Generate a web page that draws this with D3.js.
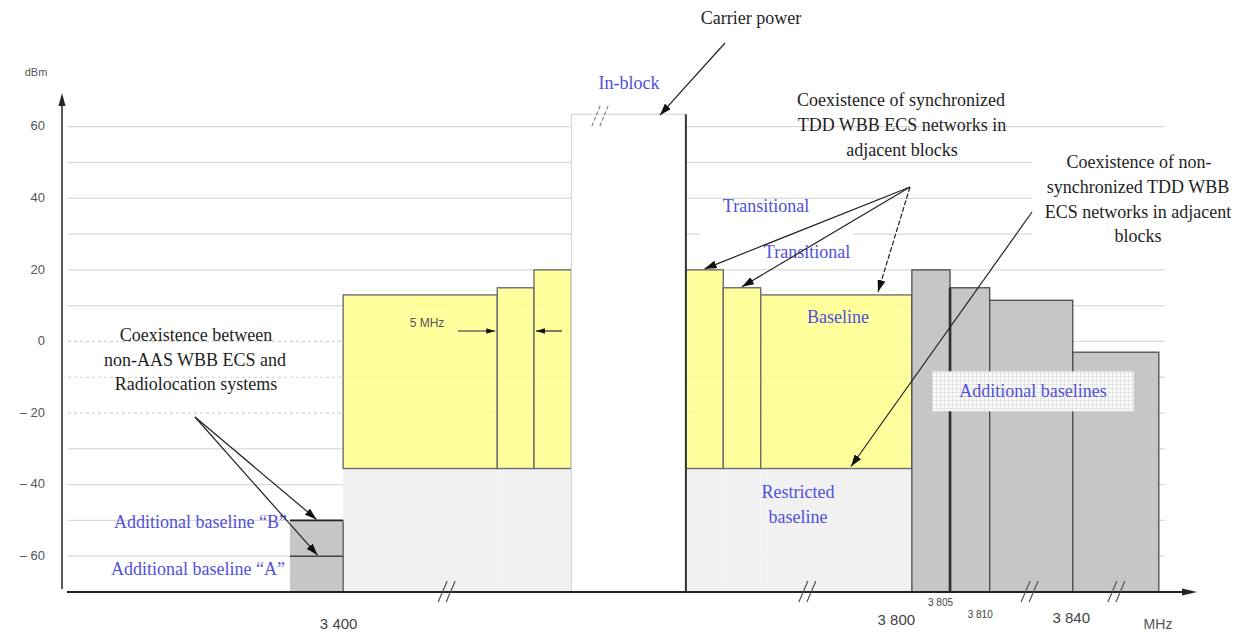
<!DOCTYPE html>
<html><head><meta charset="utf-8">
<script src="https://cdn.jsdelivr.net/npm/d3@7"></script>
<style>body{margin:0;background:#fff;} svg{display:block;}</style>
</head><body>
<svg id="chart" width="1242" height="632"></svg>
<script>
// ---------------- data ----------------
const yTickValues = [60, 40, 20, 0, -20, -40, -60];
const yTickLabels = ["60", "40", "20", "0", "– 20", "– 40", "– 60"];
const gridValues  = [60, 50, 40, 30, 20, 10, 0, -10, -20, -30, -40, -50, -60];

// schematic (broken) frequency axis, in drawing units
const blockNames = ["Additional baseline A/B", "Baseline", "Transitional", "Transitional", "In-block",
                    "Transitional", "Transitional", "Baseline", "Additional 3800-3805",
                    "Additional 3805-3810", "Additional 3810-3840", "Additional above 3840"];
const blockStart = [29.8, 36.9, 57.5, 62.4, 67.4, 82.7, 87.7, 92.7, 112.9, 118.0, 123.3, 134.4];
const blockEnd   = [36.9, 57.5, 62.4, 67.4, 82.7, 87.7, 92.7, 112.9, 118.0, 123.3, 134.4, 145.9];
const blockLevel = [-50, 13, 15, 20, 63.5, 20, 15, 13, 20, 15, 11.5, -3];
const blockType  = ["add", "yellow", "yellow", "yellow", "inblock", "yellow", "yellow", "yellow",
                    "add", "add", "add", "add"];
const restrictedLevel = -35.5;
const additionalA = -60;
const additionalB = -50;

const xTickValues = [36.9, 112.9, 118.0, 123.3, 134.4];
const xTickLabels = ["3 400", "3 800", "3 805", "3 810", "3 840"];
const axisBreaks  = [50.8, 99.0, 128.7, 140.3];
const inBlockBreak = 71.2;

// ---------------- chart ----------------
const svg = d3.select("#chart");
const x = d3.scaleLinear().domain([0, 151]).range([67, 1197]);
const y = d3.scaleLinear().domain([-70, 60]).range([592, 126.7]);

const SERIF = "'Liberation Serif', 'Times New Roman', serif";
const SANS = "'Liberation Sans', Arial, sans-serif";
const BLUE = "#5050dc";
const INK = "#1e1e1e";

const defs = svg.append("defs");
defs.append("marker").attr("id", "arr").attr("viewBox", "0 0 12 8")
  .attr("refX", 12).attr("refY", 4).attr("markerWidth", 12).attr("markerHeight", 8)
  .attr("markerUnits", "userSpaceOnUse").attr("orient", "auto")
  .append("path").attr("d", "M0,0 L12,4 L0,8 Z").attr("fill", "#111");
defs.append("marker").attr("id", "arrs").attr("viewBox", "0 0 10 6")
  .attr("refX", 10).attr("refY", 3).attr("markerWidth", 9).attr("markerHeight", 6)
  .attr("markerUnits", "userSpaceOnUse").attr("orient", "auto")
  .append("path").attr("d", "M0,0 L10,3 L0,6 Z").attr("fill", "#111");
const pat = defs.append("pattern").attr("id", "mottle").attr("width", 4).attr("height", 4)
  .attr("patternUnits", "userSpaceOnUse");
pat.append("rect").attr("width", 4).attr("height", 4).attr("fill", "#fbfbfb");
pat.append("path").attr("d", "M0,0.5H4 M0.5,0V4").attr("stroke", "#e4e4e4").attr("stroke-width", 1);

// gridlines
const gridG = svg.append("g");
gridValues.forEach(v => {
  const dashedLeft = (v <= 0 && v >= -20);
  if (dashedLeft) {
    gridG.append("line").attr("x1", 68).attr("x2", x(blockStart[1])).attr("y1", y(v)).attr("y2", y(v))
      .attr("stroke", "#cfcfcf").attr("stroke-width", 1.2).attr("stroke-dasharray", "3,3");
    gridG.append("line").attr("x1", x(blockStart[1])).attr("x2", 1165).attr("y1", y(v)).attr("y2", y(v))
      .attr("stroke", "#d9d9d9").attr("stroke-width", 1.3);
  } else {
    gridG.append("line").attr("x1", 68).attr("x2", 1165).attr("y1", y(v)).attr("y2", y(v))
      .attr("stroke", "#d9d9d9").attr("stroke-width", 1.3);
  }
});
// white backgrounds behind some annotations (they hide the gridlines)
svg.append("rect").attr("x", 700).attr("y", 229).attr("width", 153).attr("height", 37).attr("fill", "#fff");
svg.append("rect").attr("x", 1032).attr("y", 145).attr("width", 210).attr("height", 110).attr("fill", "#fff");

const blocks = blockNames.map((n, i) => ({ name: n, x0: blockStart[i], x1: blockEnd[i], v: blockLevel[i], type: blockType[i] }));

// restricted baseline (light grey) under the yellow blocks
svg.append("g").selectAll("rect").data(blocks.filter(b => b.type === "yellow")).join("rect")
  .attr("x", d => x(d.x0)).attr("width", d => x(d.x1) - x(d.x0))
  .attr("y", y(restrictedLevel)).attr("height", y(-70) - y(restrictedLevel))
  .attr("fill", "#f1f1f1");

// yellow blocks
svg.append("g").selectAll("rect").data(blocks.filter(b => b.type === "yellow")).join("rect")
  .attr("x", d => x(d.x0)).attr("width", d => x(d.x1) - x(d.x0))
  .attr("y", d => y(d.v)).attr("height", d => y(restrictedLevel) - y(d.v))
  .attr("fill", "#ffff8c").attr("fill-opacity", 0.84)
  .attr("stroke", "#6e6e6e").attr("stroke-width", 1.4);

// additional baseline blocks (grey)
const addBlocks = blocks.filter(b => b.type === "add");
svg.append("g").selectAll("rect").data(addBlocks.slice(1)).join("rect")
  .attr("x", d => x(d.x0)).attr("width", d => x(d.x1) - x(d.x0))
  .attr("y", d => y(d.v)).attr("height", d => y(-70) - y(d.v))
  .attr("fill", "#c6c6c6").attr("stroke", "#4a4a4a").attr("stroke-width", 1.3);
// thick separation at 3 805
svg.append("line").attr("x1", x(blockStart[9])).attr("x2", x(blockStart[9]))
  .attr("y1", y(blockLevel[9])).attr("y2", y(-70)).attr("stroke", "#2e2e2e").attr("stroke-width", 2.6);

// additional baselines A / B
const ab = blocks[0];
svg.append("rect").attr("x", x(ab.x0)).attr("width", x(ab.x1) - x(ab.x0))
  .attr("y", y(additionalB)).attr("height", y(-70) - y(additionalB)).attr("fill", "#c6c6c6");
svg.append("line").attr("x1", x(ab.x0)).attr("x2", x(ab.x1)).attr("y1", y(additionalB)).attr("y2", y(additionalB))
  .attr("stroke", "#222").attr("stroke-width", 1.8);
svg.append("line").attr("x1", x(ab.x0)).attr("x2", x(ab.x1)).attr("y1", y(additionalA)).attr("y2", y(additionalA))
  .attr("stroke", "#444").attr("stroke-width", 1.6);
svg.append("line").attr("x1", x(ab.x1)).attr("x2", x(ab.x1)).attr("y1", y(additionalB)).attr("y2", y(-70))
  .attr("stroke", "#555").attr("stroke-width", 1.3);

// in-block
const ib = blocks[4];
svg.append("rect").attr("x", x(ib.x0)).attr("width", x(ib.x1) - x(ib.x0))
  .attr("y", y(ib.v)).attr("height", y(-70) - y(ib.v))
  .attr("fill", "#fff").attr("stroke", "#d2d2d2").attr("stroke-width", 1);
svg.append("line").attr("x1", x(ib.x1)).attr("x2", x(ib.x1)).attr("y1", y(ib.v)).attr("y2", y(-70))
  .attr("stroke", "#333").attr("stroke-width", 2);
// break mark on the in-block top
[0, 8].forEach(o => {
  const bx = x(inBlockBreak) + o;
  svg.append("line").attr("x1", bx - 8).attr("y1", y(ib.v) + 12).attr("x2", bx + 1).attr("y2", y(ib.v) - 10)
    .attr("stroke", "#8a8a8a").attr("stroke-width", 1.2).attr("stroke-dasharray", "4,2");
});

// axes
const axisY = y(-70);
svg.append("line").attr("x1", 67).attr("x2", 1184).attr("y1", axisY).attr("y2", axisY)
  .attr("stroke", "#222").attr("stroke-width", 2.2);
svg.append("path").attr("d", `M1197,${axisY} L1182,${axisY - 3.5} L1182,${axisY + 3.5} Z`).attr("fill", "#222");
svg.append("line").attr("x1", 62).attr("x2", 62).attr("y1", axisY - 3).attr("y2", 104)
  .attr("stroke", "#333").attr("stroke-width", 1.6);
svg.append("path").attr("d", "M62,93 L58.5,106 L65.5,106 Z").attr("fill", "#222");

axisBreaks.forEach(b => {
  [0, 8].forEach(o => {
    const bx = x(b) + o - 4;
    svg.append("line").attr("x1", bx - 5).attr("y1", axisY + 10).attr("x2", bx + 4).attr("y2", axisY - 11)
      .attr("stroke", "#555").attr("stroke-width", 1.2);
  });
});

const yAxisG = svg.append("g").attr("transform", "translate(45,-1)")
  .call(d3.axisLeft(y).tickValues(yTickValues).tickFormat((d, i) => yTickLabels[i]).tickSize(0).tickPadding(0));
yAxisG.select(".domain").remove();
yAxisG.selectAll("text").attr("font-family", SANS).attr("font-size", 13).attr("fill", "#555");

const xLabelStyle = [
  { dx: -5, cy: 32, size: 15 },
  { dx: -16, cy: 28, size: 15 },
  { dx: -10, cy: 10, size: 10 },
  { dx: -10, cy: 22, size: 10 },
  { dx: -2, cy: 26, size: 15 }
];
const xAxisG = svg.append("g").attr("transform", `translate(0,${axisY})`)
  .call(d3.axisBottom(x).tickValues(xTickValues).tickFormat((d, i) => xLabelStyle && xTickLabels[i]).tickSize(0));
xAxisG.select(".domain").remove();
xAxisG.selectAll("text").each(function (d, i) {
  const s = xLabelStyle[i];
  d3.select(this).attr("font-family", SANS).attr("font-size", s.size).attr("fill", "#444")
    .attr("y", s.cy).attr("dy", "0.35em").attr("dx", s.dx);
});
svg.append("text").attr("x", 1158).attr("y", 624).attr("dy", "0.35em").attr("text-anchor", "middle")
  .attr("font-family", SANS).attr("font-size", 14).attr("fill", "#555").text("MHz");
svg.append("text").attr("x", 36).attr("y", 72).attr("dy", "0.35em").attr("text-anchor", "middle")
  .attr("font-family", SANS).attr("font-size", 11).attr("fill", "#555").text("dBm");

// "Additional baselines" label box
const abText = svg.append("text").attr("x", 1033).attr("y", 391).attr("dy", "0.35em").attr("text-anchor", "middle")
  .attr("font-family", SERIF).attr("font-size", 18).attr("fill", BLUE).text("Additional baselines");
const bb = abText.node().getBBox();
svg.insert("rect", () => abText.node()).attr("x", bb.x - 27).attr("y", bb.y - 10)
  .attr("width", bb.width + 54).attr("height", bb.height + 20).attr("fill", "url(#mottle)");

// text annotations
function txt(t, cx, cy, color, size, family, anchor) {
  svg.append("text").attr("x", cx).attr("y", cy).attr("dy", "0.35em")
    .attr("text-anchor", anchor || "middle").attr("font-family", family || SERIF)
    .attr("font-size", size || 18).attr("fill", color).text(t);
}
txt("Carrier power", 751, 18, INK);
txt("In-block", 629, 83, BLUE);
txt("Coexistence of synchronized", 901, 100, INK);
txt("TDD WBB ECS networks in", 902, 125, INK);
txt("adjacent blocks", 902, 150, INK);
txt("Transitional", 766, 206, BLUE);
txt("Transitional", 807, 252, BLUE);
txt("Baseline", 838, 317, BLUE);
txt("Restricted", 798, 492, BLUE);
txt("baseline", 798, 517, BLUE);
txt("Coexistence of non-", 1139, 162, INK);
txt("synchronized TDD WBB", 1138, 187, INK);
txt("ECS networks in adjacent", 1138, 212, INK);
txt("blocks", 1138, 236, INK);
txt("Coexistence between", 196, 335, INK);
txt("non-AAS WBB ECS and", 195, 360, INK);
txt("Radiolocation systems", 196, 384, INK);
txt("Additional baseline \u201CB\u201D", 287, 522, BLUE, 18, SERIF, "end");
txt("Additional baseline \u201CA\u201D", 285, 569, BLUE, 18, SERIF, "end");
txt("5 MHz", 427, 323, "#555", 12, SANS);

// arrows
function arrow(x1, y1, x2, y2, marker, dash) {
  const l = svg.append("line").attr("x1", x1).attr("y1", y1).attr("x2", x2).attr("y2", y2)
    .attr("stroke", "#222").attr("stroke-width", 1.2).attr("marker-end", `url(#${marker || "arr"})`);
  if (dash) l.attr("stroke-dasharray", dash);
}
const mid = b => (x(b.x0) + x(b.x1)) / 2;
arrow(725, 43, x(ib.x1) - 26, y(ib.v) + 1);
arrow(910, 187, mid(blocks[5]), y(blocks[5].v) - 1);
arrow(910, 187, mid(blocks[6]), y(blocks[6].v) - 1);
arrow(910, 187, 878, y(blocks[7].v) - 3, "arr", "5,2");
arrow(1032, 212, 851, y(restrictedLevel) - 2);
arrow(195, 417, mid(ab), y(additionalB) - 1);
arrow(195, 417, mid(ab) + 1, y(additionalA) - 1);
arrow(458, 331, x(blocks[2].x0) - 2, 331, "arrs");
arrow(562, 331, x(blocks[2].x1) + 2, 331, "arrs");
</script>
</body></html>
